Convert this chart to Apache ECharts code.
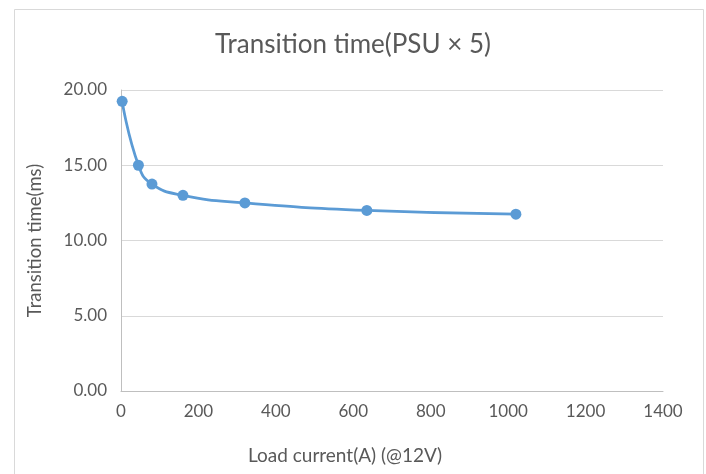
<!DOCTYPE html>
<html>
<head>
<meta charset="utf-8">
<script src="https://cdn.jsdelivr.net/npm/echarts@6/dist/echarts.min.js"></script>
<style>
html,body{margin:0;padding:0;background:#fff;}
#c{width:706px;height:474px;}
</style>
</head>
<body>
<div id="c"></div>
<script>
const loadCurrent = [3, 45, 80, 160, 320, 635, 1020];
const transitionTime = [19.25, 15.0, 13.75, 13.0, 12.5, 12.0, 11.75];
const xTicks = [0, 200, 400, 600, 800, 1000, 1200, 1400];
const yTicks = [0, 5, 10, 15, 20];

const FONT = 'Lato, "Open Sans", sans-serif';
const chart = echarts.init(document.getElementById('c'), null, {renderer: 'canvas'});
chart.setOption({
  animation: false,
  backgroundColor: '#fff',
  graphic: [{
    type: 'rect', left: 12, top: 7,
    shape: {width: 689, height: 480},
    style: {fill: 'none', stroke: '#d9d9d9', lineWidth: 1},
    silent: true
  }],
  title: {
    text: 'Transition time(PSU × 5)',
    left: 'center', top: 27,
    textStyle: {fontFamily: FONT, fontSize: 26, fontWeight: 'normal', color: '#595959'}
  },
  grid: {left: 121, right: 43, top: 90, bottom: 83, containLabel: false},
  xAxis: {
    type: 'value', min: 0, max: 1400, interval: 200,
    name: 'Load current(A) (@12V)', nameLocation: 'middle', nameGap: 55,
    nameTextStyle: {fontFamily: FONT, fontSize: 19, color: '#595959', padding: [0, 94, 0, 0]},
    axisLine: {show: true, lineStyle: {color: '#bfbfbf', width: 1}},
    axisTick: {show: false},
    splitLine: {show: false},
    axisLabel: {fontFamily: FONT, fontSize: 17, color: '#595959', margin: 12,
      formatter: v => xTicks.includes(v) ? String(v) : ''}
  },
  yAxis: {
    type: 'value', min: 0, max: 20, interval: 5,
    name: 'Transition time(ms)', nameLocation: 'middle', nameGap: 76,
    nameTextStyle: {fontFamily: FONT, fontSize: 18.5, color: '#595959'},
    axisLine: {show: true, lineStyle: {color: '#bfbfbf', width: 1}},
    axisTick: {show: false},
    splitLine: {show: true, lineStyle: {color: '#d9d9d9', width: 1}},
    axisLabel: {fontFamily: FONT, fontSize: 17, color: '#595959', margin: 14,
      formatter: v => yTicks.includes(v) ? v.toFixed(2) : ''}
  },
  series: [{
    type: 'line',
    data: loadCurrent.map((x, i) => [x, transitionTime[i]]),
    smooth: 0.5,
    symbol: 'circle', symbolSize: 11,
    lineStyle: {color: '#5b9bd5', width: 2.75},
    itemStyle: {color: '#5b9bd5'}
  }]
});
</script>
</body>
</html>
